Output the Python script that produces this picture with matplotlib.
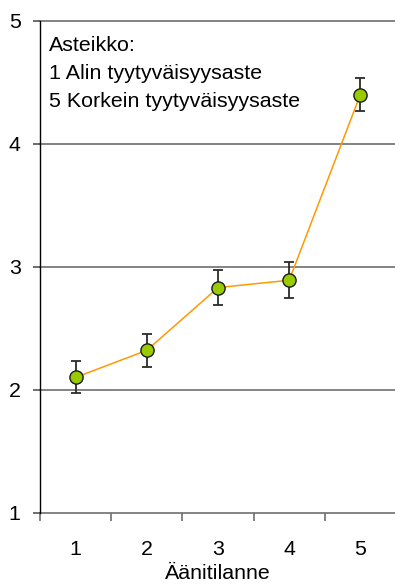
import matplotlib
matplotlib.use("Agg")
import matplotlib.pyplot as plt

# Mean satisfaction per sound situation, with error bar half-widths
situations = [1, 2, 3, 4, 5]
means = [2.10, 2.32, 2.83, 2.89, 4.40]
errors = [0.13, 0.135, 0.14, 0.145, 0.135]
y_ticks = [1, 2, 3, 4, 5]
scale_lines = ["Asteikko:", "1 Alin tyytyväisyysaste", "5 Korkein tyytyväisyysaste"]

plt.rcParams["font.family"] = ["Liberation Sans", "DejaVu Sans"]
FS = 15.4

fig = plt.figure(figsize=(3.95, 5.87), dpi=100)
ax = fig.add_axes([40 / 395, 1 - 512.7 / 587, 356 / 395, 492 / 587])

GRID = "#6e6e6e"

# grid lines across the plot area
for yv in y_ticks:
    ax.axhline(yv, color=GRID, lw=1.2, zorder=1, clip_on=False)

ax.errorbar(situations, means, yerr=errors, fmt="none", ecolor="#2b2b2b",
            elinewidth=1.3, capsize=3.3, capthick=1.3, zorder=2)
ax.plot(situations, means, color="#ff9900", lw=1.1, marker="o",
        markersize=9.5, markerfacecolor="#99cc00", markeredgecolor="#1a1a1a",
        markeredgewidth=1.0, zorder=3)

ax.set_xlim(0.5, 5.5)
ax.set_ylim(1, 5)
ax.set_yticks(y_ticks)
ax.set_xticks(situations)
ax.set_xticks([0.5, 1.5, 2.5, 3.5, 4.5, 5.5], minor=True)
ax.tick_params(axis="x", which="major", length=0, labelsize=FS, pad=20)
ax.tick_params(axis="x", which="minor", length=5.5, width=1.2, color=GRID)
ax.tick_params(axis="y", length=5, width=1.2, color="#555555",
               labelsize=FS, pad=9)

for side in ["top", "right", "bottom"]:
    ax.spines[side].set_visible(False)
ax.spines["left"].set_color("black")
ax.spines["left"].set_linewidth(1.0)
ax.spines["left"].set_zorder(4)

ax.set_xlabel("Äänitilanne", fontsize=FS, labelpad=3)

baselines = [0.939, 0.881, 0.824]
for line, yb in zip(scale_lines, baselines):
    ax.text(0.026, yb, line, transform=ax.transAxes, fontsize=FS,
            va="baseline", ha="left")

fig.savefig("out.png", dpi=100)
